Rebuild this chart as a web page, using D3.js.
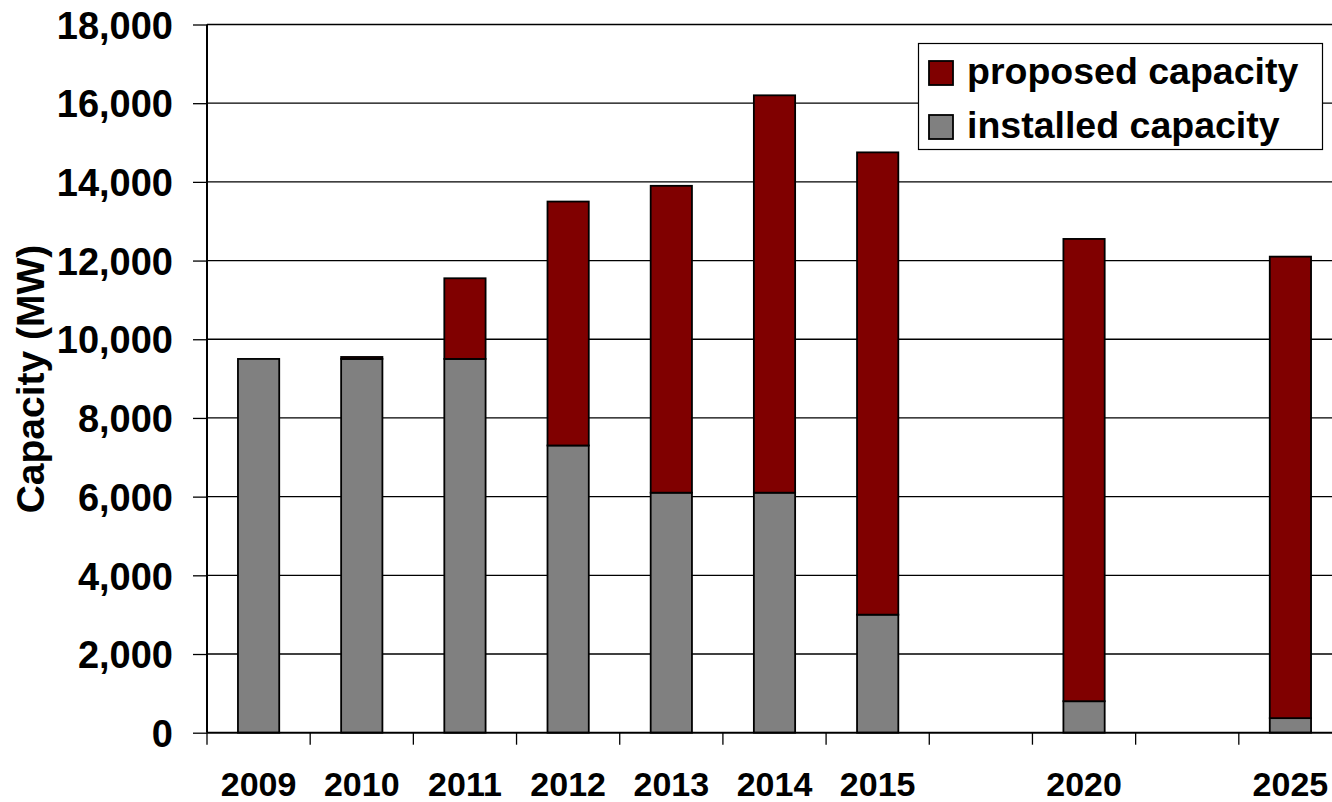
<!DOCTYPE html>
<html>
<head>
<meta charset="utf-8">
<script src="https://cdn.jsdelivr.net/npm/d3@7"></script>
<style>
  body { margin: 0; background: #fff; }
  text { font-family: "Liberation Sans", Arial, sans-serif; font-weight: bold; fill: #000; }
</style>
</head>
<body>
<div id="vis"></div>
<script>
// slots along the x axis (the gaps are empty years)
var categories = ['2009', '2010', '2011', '2012', '2013', '2014', '2015', 'gap1', '2020', 'gap2', '2025'];
var catLabels = ['2009', '2010', '2011', '2012', '2013', '2014', '2015', '', '2020', '', '2025'];

// MW
var installed = [9500, 9500, 9500, 7300, 6100, 6100, 3000, null, 800, null, 370];
var proposed = [0, 50, 2050, 6200, 7800, 10100, 11750, null, 11750, null, 11730];

var yTicks = [0, 2000, 4000, 6000, 8000, 10000, 12000, 14000, 16000, 18000];
var seriesKeys = ['installed', 'proposed'];
var legendItems = [
  { key: 'proposed', label: 'proposed capacity' },
  { key: 'installed', label: 'installed capacity' }
];

var width = 1332;
var height = 802;
// plot box (right edge runs past the picture, as in the original)
var plotLeft = 207, plotRight = 1342, plotTop = 24.5, plotBottom = 732.7;

var colors = { installed: '#808080', proposed: '#800000' };

var svg = d3.select('#vis').append('svg')
  .attr('width', width)
  .attr('height', height);

var x = d3.scaleBand()
  .domain(categories)
  .range([plotLeft, plotRight])
  .paddingInner(0.6)
  .paddingOuter(0.3);

var y = d3.scaleLinear()
  .domain([0, 18000])
  .range([plotBottom, plotTop]);

// gridlines
svg.append('g').selectAll('line')
  .data(yTicks.slice(1))
  .enter().append('line')
  .attr('x1', plotLeft).attr('x2', plotRight)
  .attr('y1', function (d) { return y(d); })
  .attr('y2', function (d) { return y(d); })
  .attr('stroke', '#000')
  .attr('stroke-width', 1.3);

// stacked bars
var rows = categories.map(function (c, i) {
  return { cat: c, installed: installed[i], proposed: proposed[i] };
}).filter(function (d) { return d.installed !== null; });

var stack = d3.stack().keys(seriesKeys);
var layers = stack(rows);

svg.append('g').selectAll('g')
  .data(layers)
  .enter().append('g')
  .attr('fill', function (d) { return colors[d.key]; })
  .selectAll('rect')
  .data(function (d) { return d.filter(function (p) { return p[1] > p[0]; }); })
  .enter().append('rect')
  .attr('x', function (d) { return x(d.data.cat); })
  .attr('width', x.bandwidth())
  .attr('y', function (d) { return y(d[1]); })
  .attr('height', function (d) { return y(d[0]) - y(d[1]); })
  .attr('stroke', '#000')
  .attr('stroke-width', 1.8);

// y axis
var yAxis = d3.axisLeft(y)
  .tickValues(yTicks)
  .tickFormat(d3.format(','))
  .tickSize(14)
  .tickPadding(20);

var yg = svg.append('g')
  .attr('transform', 'translate(' + plotLeft + ',0)')
  .call(yAxis);
yg.select('.domain').attr('stroke-width', 2).attr('d', 'M0,' + plotTop + 'V' + plotBottom);
yg.selectAll('.tick line').attr('stroke-width', 1.3);
yg.selectAll('.tick text')
  .style('font-size', '38px')
  .attr('dy', '0.36em');

// x axis: ticks at slot borders, labels under bars
var step = x.step();
var borders = categories.map(function (c) { return x(c) + x.bandwidth() / 2 - step / 2; });
borders.push(borders[borders.length - 1] + step);

svg.append('line')
  .attr('x1', plotLeft).attr('x2', plotRight)
  .attr('y1', plotBottom).attr('y2', plotBottom)
  .attr('stroke', '#000')
  .attr('stroke-width', 2);

svg.append('g').selectAll('line')
  .data(borders)
  .enter().append('line')
  .attr('x1', function (d) { return d; })
  .attr('x2', function (d) { return d; })
  .attr('y1', plotBottom)
  .attr('y2', plotBottom + 12)
  .attr('stroke', '#000')
  .attr('stroke-width', 1.3);

svg.append('g').selectAll('text')
  .data(categories)
  .enter().append('text')
  .attr('x', function (d) { return x(d) + x.bandwidth() / 2; })
  .attr('y', 796)
  .attr('text-anchor', 'middle')
  .style('font-size', '34px')
  .text(function (d, i) { return catLabels[i]; });

// y axis title
svg.append('text')
  .attr('transform', 'translate(44,379) rotate(-90)')
  .attr('text-anchor', 'middle')
  .style('font-size', '39px')
  .text('Capacity (MW)');

// legend
var legend = svg.append('g');
legend.append('rect')
  .attr('x', 918.5).attr('y', 43.5)
  .attr('width', 404).attr('height', 106)
  .attr('fill', '#fff')
  .attr('stroke', '#000')
  .attr('stroke-width', 1.2);

var li = legend.selectAll('g.item')
  .data(legendItems)
  .enter().append('g')
  .attr('class', 'item')
  .attr('transform', function (d, i) { return 'translate(929,' + (61 + i * 54) + ')'; });

li.append('rect')
  .attr('width', 24).attr('height', 24)
  .attr('fill', function (d) { return colors[d.key]; })
  .attr('stroke', '#000')
  .attr('stroke-width', 1.8);

li.append('text')
  .attr('x', 38)
  .attr('y', 23)
  .style('font-size', '37.5px')
  .text(function (d) { return d.label; });
</script>
</body>
</html>
